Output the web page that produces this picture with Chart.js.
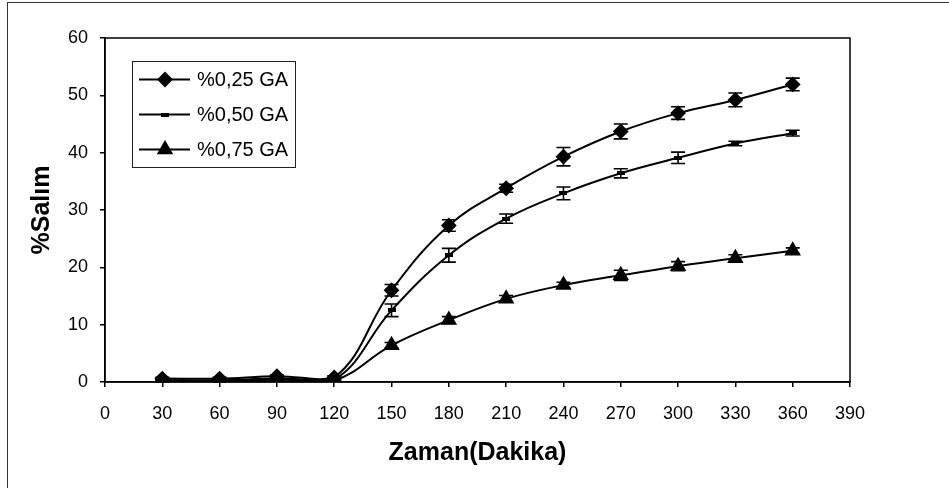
<!DOCTYPE html>
<html>
<head>
<meta charset="utf-8">
<script src="https://cdn.jsdelivr.net/npm/chart.js@4"></script>
<style>
  body { margin: 0; background: #fff; }
  #wrap { width: 949px; height: 488px; }
</style>
</head>
<body>
<div id="wrap"><canvas id="salim-chart" width="949" height="488"></canvas></div>
<script>
// data
const times = [30, 60, 90, 120, 150, 180, 210, 240, 270, 300, 330, 360]
const seriesLabels = ['%0,25 GA', '%0,50 GA', '%0,75 GA']
const ga025 = [0.6, 0.6, 1.0, 0.8, 16.0, 27.3, 33.8, 39.3, 43.7, 46.9, 49.2, 51.9]
const ga025Err = [0.2, 0.2, 0.2, 0.3, 1.0, 1.0, 0.7, 1.6, 1.3, 1.1, 1.2, 1.1]
const ga050 = [0.3, 0.3, 0.6, 0.4, 12.5, 22.1, 28.5, 32.9, 36.4, 39.1, 41.6, 43.4]
const ga050Err = [0.1, 0.1, 0.2, 0.2, 1.1, 1.2, 0.8, 1.1, 0.8, 1.0, 0.4, 0.5]
const ga075 = [0.1, 0.1, 0.4, 0.3, 6.4, 10.8, 14.5, 16.9, 18.6, 20.2, 21.6, 22.9]
const ga075Err = [0.1, 0.1, 0.1, 0.1, 0.5, 0.6, 0.6, 0.5, 0.9, 0.8, 0.6, 0.5]
const xTicks = [0, 390, 30]   // min, max, step
const yTicks = [0, 60, 10]

const FONT = "'Liberation Sans', Arial, sans-serif"

// little dash used as the marker of the middle series
const dash = document.createElement('canvas')
dash.width = 8
dash.height = 4
const dctx = dash.getContext('2d')
dctx.fillStyle = '#000'
dctx.fillRect(0, 0, 8, 4)

function toPoints(ys) {
    return times.map((t, i) => ({ x: t, y: ys[i] }))
}

function makeSet(label, ys, errs, style, radius) {
    return {
        label: label,
        data: toPoints(ys),
        errors: errs,
        borderColor: '#000',
        backgroundColor: '#000',
        borderWidth: 2,
        pointStyle: style,
        pointRadius: radius,
        pointHoverRadius: radius,
        tension: 0.4
    }
}

const datasets = [
    makeSet(seriesLabels[0], ga025, ga025Err, 'rectRot', 6.5),
    makeSet(seriesLabels[1], ga050, ga050Err, dash, 4),
    makeSet(seriesLabels[2], ga075, ga075Err, 'triangle', 7.5)
]

// outer frame + plot box
const framePlugin = {
    id: 'frame',
    beforeDraw(chart) {
        const ctx = chart.ctx
        ctx.save()
        ctx.fillStyle = '#fff'
        ctx.fillRect(0, 0, chart.width, chart.height)
        ctx.strokeStyle = '#333'
        ctx.lineWidth = 1
        ctx.strokeRect(7.5, 2.5, chart.width + 20, chart.height + 20)
        ctx.restore()
    },
    afterDraw(chart) {
        const a = chart.chartArea
        const ctx = chart.ctx
        ctx.save()
        ctx.strokeStyle = '#000'
        ctx.lineWidth = 1.5
        ctx.strokeRect(a.left, a.top, a.right - a.left, a.bottom - a.top)
        ctx.restore()
    }
}

// vertical error bars with caps
const errorBarPlugin = {
    id: 'errorBars',
    afterDatasetsDraw(chart) {
        const ctx = chart.ctx
        const xs = chart.scales.x
        const ys = chart.scales.y
        ctx.save()
        ctx.strokeStyle = '#000'
        ctx.lineWidth = 1.6
        chart.data.datasets.forEach(ds => {
            ds.data.forEach((p, i) => {
                const e = ds.errors[i]
                const px = xs.getPixelForValue(p.x)
                const top = ys.getPixelForValue(p.y + e)
                const bot = ys.getPixelForValue(p.y - e)
                ctx.beginPath()
                ctx.moveTo(px, top); ctx.lineTo(px, bot)
                ctx.moveTo(px - 7, top); ctx.lineTo(px + 7, top)
                ctx.moveTo(px - 7, bot); ctx.lineTo(px + 7, bot)
                ctx.stroke()
            })
        })
        ctx.restore()
    }
}

// boxed legend inside the plot, top left
const legendBoxPlugin = {
    id: 'legendBox',
    afterDraw(chart) {
        const a = chart.chartArea
        const ctx = chart.ctx
        const left = a.left + 27
        const top = a.top + 23
        ctx.save()
        ctx.fillStyle = '#fff'
        ctx.fillRect(left, top, 163, 106)
        ctx.strokeStyle = '#222'
        ctx.lineWidth = 1
        ctx.strokeRect(left + 0.5, top + 0.5, 163, 106)
        ctx.font = '20px ' + FONT
        ctx.textBaseline = 'middle'
        chart.data.datasets.forEach((ds, i) => {
            const cy = top + 18.5 + i * 35
            ctx.strokeStyle = '#000'
            ctx.fillStyle = '#000'
            ctx.lineWidth = 2
            ctx.beginPath()
            ctx.moveTo(left + 7, cy)
            ctx.lineTo(left + 58, cy)
            ctx.stroke()
            Chart.helpers.drawPoint(ctx, {
                pointStyle: ds.pointStyle,
                radius: ds.pointRadius,
                borderWidth: 1
            }, left + 33, cy)
            ctx.fillText(ds.label, left + 65, cy + 1)
        })
        ctx.restore()
    }
}

new Chart(document.getElementById('salim-chart'), {
    type: 'line',
    data: { datasets: datasets },
    plugins: [framePlugin, errorBarPlugin, legendBoxPlugin],
    options: {
        responsive: false,
        animation: false,
        layout: { padding: { left: 0, top: 38, right: 99, bottom: 0 } },
        plugins: {
            legend: { display: false },
            tooltip: { enabled: false }
        },
        scales: {
            x: {
                type: 'linear',
                min: xTicks[0],
                max: xTicks[1],
                afterFit(scale) { scale.height = 106 },
                ticks: {
                    stepSize: xTicks[2],
                    color: '#000',
                    padding: 16,
                    maxRotation: 0,
                    font: { family: FONT, size: 18 }
                },
                grid: { drawOnChartArea: false, drawTicks: true, tickLength: 5, color: '#000', lineWidth: 1.5 },
                border: { display: true, color: '#000', width: 1.5 },
                title: {
                    display: true,
                    text: 'Zaman(Dakika)',
                    color: '#000',
                    padding: { top: 0, bottom: 20 },
                    font: { family: FONT, size: 25, weight: 'bold' }
                }
            },
            y: {
                min: yTicks[0],
                max: yTicks[1],
                afterFit(scale) { scale.width = 105 },
                ticks: {
                    stepSize: yTicks[2],
                    color: '#000',
                    padding: 12,
                    font: { family: FONT, size: 18 }
                },
                grid: { drawOnChartArea: false, drawTicks: true, tickLength: 5, color: '#000', lineWidth: 1.5 },
                border: { display: true, color: '#000', width: 1.5 },
                title: {
                    display: true,
                    text: '%Salım',
                    color: '#000',
                    padding: { top: 27, bottom: 0 },
                    font: { family: FONT, size: 25, weight: 'bold' }
                }
            }
        }
    }
})
</script>
</body>
</html>
